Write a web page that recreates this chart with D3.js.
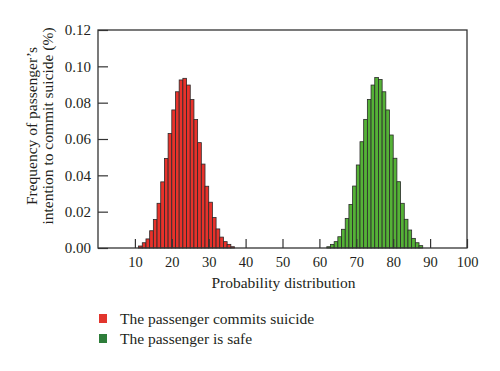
<!DOCTYPE html>
<html>
<head>
<meta charset="utf-8">
<title>Probability distribution</title>
<style>
body { margin: 0; background: #fff; }
svg { display: block; background: #fff; }
text { font-family: "Liberation Serif", "DejaVu Serif", serif; fill: #231f20; }
</style>
</head>
<body>
<div id="chart"></div>
<script src="https://cdn.jsdelivr.net/npm/d3@7"></script>
<script>
// bins are 1 unit wide, value = left edge of the bin
var suicideBins = d3.range(11, 37);
var suicideFreq = [0.0011, 0.0029, 0.0050, 0.0095, 0.0157, 0.0246, 0.0364, 0.0493, 0.0630, 0.0760,
  0.0860, 0.0925, 0.0934, 0.0897, 0.0817, 0.0707, 0.0580, 0.0462, 0.0340, 0.0252,
  0.0168, 0.0105, 0.0060, 0.0035, 0.0020, 0.0007];
var safeBins = d3.range(62, 88);
var safeFreq = [0.0007, 0.0020, 0.0035, 0.0062, 0.0103, 0.0163, 0.0240, 0.0341, 0.0457, 0.0585,
  0.0708, 0.0818, 0.0897, 0.0938, 0.0928, 0.0860, 0.0760, 0.0622, 0.0494, 0.0365,
  0.0246, 0.0158, 0.0099, 0.0053, 0.0029, 0.0013];
var xTicks = [10, 20, 30, 40, 50, 60, 70, 80, 90, 100];
var yTicks = [0, 0.02, 0.04, 0.06, 0.08, 0.10, 0.12];
var legendLabels = ["The passenger commits suicide", "The passenger is safe"];

var W = 500, H = 371;
var margin = { top: 30, right: 33, bottom: 123, left: 98 };
var width = W - margin.left - margin.right,
  height = H - margin.top - margin.bottom;

var svg = d3.select("#chart").append("svg")
  .attr("width", W)
  .attr("height", H);

var g = svg.append("g")
  .attr("transform", "translate(" + margin.left + "," + margin.top + ")");

var x = d3.scaleLinear().domain([0, 100]).range([0, width]);
var y = d3.scaleLinear().domain([0, 0.12]).range([height, 0]);

function drawBars(bins, freq, fill) {
  var data = bins.map(function(b, i) { return { b: b, v: freq[i] }; });
  g.append("g").selectAll("rect").data(data).enter().append("rect")
    .attr("x", function(d) { return x(d.b); })
    .attr("width", function(d) { return x(d.b + 1) - x(d.b); })
    .attr("y", function(d) { return y(d.v); })
    .attr("height", function(d) { return y(0) - y(d.v); })
    .attr("fill", fill)
    .attr("stroke", "#2a2a2a")
    .attr("stroke-width", 0.8);
}
drawBars(suicideBins, suicideFreq, "#e8322b");
drawBars(safeBins, safeFreq, "#55b237");

// inward ticks
var xAxis = g.append("g")
  .attr("transform", "translate(0," + height + ")")
  .call(d3.axisBottom(x).tickValues(xTicks).tickSizeInner(-9).tickSizeOuter(0).tickFormat(d3.format("d")));
xAxis.select(".domain").remove();
xAxis.selectAll("line").attr("stroke", "#333").attr("stroke-width", 1.2);
xAxis.selectAll("text").attr("font-size", 14.5).attr("font-family", null).attr("fill", null)
  .attr("y", 8).attr("dy", "0.75em");

var yAxis = g.append("g")
  .call(d3.axisLeft(y).tickValues(yTicks).tickSizeInner(-10).tickSizeOuter(0).tickFormat(d3.format(".2f")));
yAxis.select(".domain").remove();
yAxis.selectAll("line").attr("stroke", "#333").attr("stroke-width", 1.2);
yAxis.selectAll("text").attr("font-size", 15).attr("font-family", null).attr("fill", null).attr("x", -7);

// frame
g.append("rect")
  .attr("width", width).attr("height", height)
  .attr("fill", "none")
  .attr("stroke", "#333")
  .attr("stroke-width", 1.3);

// axis titles
g.append("text")
  .attr("x", width / 2 + 1)
  .attr("y", height + 40)
  .attr("text-anchor", "middle")
  .attr("font-size", 15.5)
  .text("Probability distribution");

var yl = svg.append("text")
  .attr("transform", "translate(37,126) rotate(-90)")
  .attr("text-anchor", "middle")
  .attr("font-size", 15.5);
yl.append("tspan").attr("x", 0).attr("y", 0).text("Frequency of passenger\u2019s");
yl.append("tspan").attr("x", 0).attr("y", 16).text("intention to commit suicide (%)");

// legend
var legendColors = ["#e2352d", "#2e7d3a"];
var lg = svg.append("g").selectAll("g").data(legendLabels).enter().append("g")
  .attr("transform", function(d, i) { return "translate(99," + (314 + i * 20) + ")"; });
lg.append("rect")
  .attr("width", 8).attr("height", 9)
  .attr("fill", function(d, i) { return legendColors[i]; });
lg.append("text")
  .attr("x", 21).attr("y", 10)
  .attr("font-size", 15.5)
  .text(function(d) { return d; });
</script>
</body>
</html>
